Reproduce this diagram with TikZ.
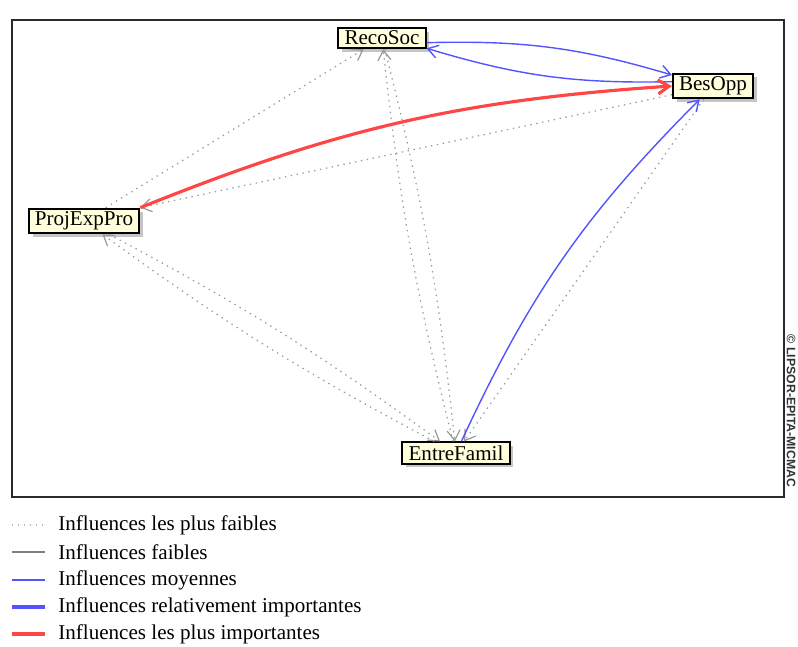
\documentclass[tikz,border=0pt]{standalone}
\usepackage{fontspec}
\setmainfont{Liberation Serif}
\setsansfont{Liberation Sans}
\usepackage{tikz}
\usetikzlibrary{arrows.meta,positioning,shadows}
\definecolor{boxfill}{HTML}{FFFFDC}
\definecolor{frameink}{HTML}{2A2A2A}
\definecolor{weakgray}{HTML}{9A9A9A}
\definecolor{midgray}{HTML}{7F7F7F}
\definecolor{midblue}{HTML}{5454FF}
\definecolor{strongred}{HTML}{FF4646}
\tikzset{
  varbox/.style={draw=black,fill=boxfill,line width=1.1pt,
                 inner xsep=3.5pt,inner ysep=1.8pt,
                 font=\fontsize{12}{14}\selectfont,
                 drop shadow={shadow xshift=2.2pt,shadow yshift=-2.2pt,fill=black!45}},
  legtext/.style={anchor=west,inner sep=0pt,font=\fontsize{12}{14}\selectfont},
  dotarr/.style={-{Straight Barb[length=2mm,width=2.6mm]},line width=0.7pt,
                 color=weakgray,dash pattern=on 0.8pt off 2.6pt},
  bluearr/.style={-{Straight Barb[length=2mm,width=2.6mm]},line width=0.8pt,color=midblue},
  redarr/.style={-{Straight Barb[length=2.2mm,width=2.8mm]},line width=1.8pt,color=strongred}
}
\begin{document}
\begin{tikzpicture}[x=0.02cm,y=0.02cm]
  \useasboundingbox (0,0) rectangle (798,646);
  \draw[frameink,line width=1.3pt] (12,149) rectangle (784,626);
  \node[rotate=-90,inner sep=0pt,font=\sffamily\bfseries\fontsize{7}{8}\selectfont,
        color=black!80] (copy) at (791,235) {© LIPSOR-EPITA-MICMAC};

  % variables
  \node[varbox] (reco) at (382,608) {RecoSoc};
  \node[varbox] (bes) at (713,560) {BesOpp};
  \node[varbox] (proj) at (84,425) {ProjExpPro};
  \node[varbox] (entre) at (456,193) {EntreFamil};

  % weakest influences
  \draw[dotarr] (proj) -- (reco);
  \draw[dotarr] (bes) -- (proj.north east);
  \draw[dotarr] (proj) to[bend left=4] (entre);
  \draw[dotarr] (entre) to[bend left=4] (proj);
  \draw[dotarr] (reco) to[bend left=4] (entre);
  \draw[dotarr] (entre) to[bend left=4] (reco);
  \draw[dotarr] (bes) -- (entre);

  % medium influences
  \draw[bluearr] (reco.-6) to[bend left=9] (bes.165);
  \draw[bluearr] (bes.174) to[bend left=9] (reco.-13);
  \draw[bluearr] (entre) to[bend left=10] (bes);

  % strongest influence
  \draw[redarr] (proj.north east) to[bend left=9] (bes.west);

  % legend
  \coordinate (l1a) at (12,121); \coordinate (l1b) at (45,121);
  \coordinate (l2a) at (12,94);  \coordinate (l2b) at (45,94);
  \coordinate (l3a) at (12,66);  \coordinate (l3b) at (45,66);
  \coordinate (l4a) at (12,39);  \coordinate (l4b) at (45,39);
  \coordinate (l5a) at (12,12);  \coordinate (l5b) at (45,12);
  \draw[color=weakgray!70,line width=0.7pt,dash pattern=on 0.8pt off 2.6pt] (l1a) -- (l1b);
  \draw[color=midgray,line width=0.9pt] (l2a) -- (l2b);
  \draw[color=midblue,line width=0.8pt] (l3a) -- (l3b);
  \draw[color=midblue,line width=1.8pt] (l4a) -- (l4b);
  \draw[color=strongred,line width=1.8pt] (l5a) -- (l5b);
  \node[legtext] (t1) at (58,121) {Influences les plus faibles};
  \node[legtext] (t2) at (58,94) {Influences faibles};
  \node[legtext] (t3) at (58,66) {Influences moyennes};
  \node[legtext] (t4) at (58,39) {Influences relativement importantes};
  \node[legtext] (t5) at (58,12) {Influences les plus importantes};
\end{tikzpicture}
\end{document}
